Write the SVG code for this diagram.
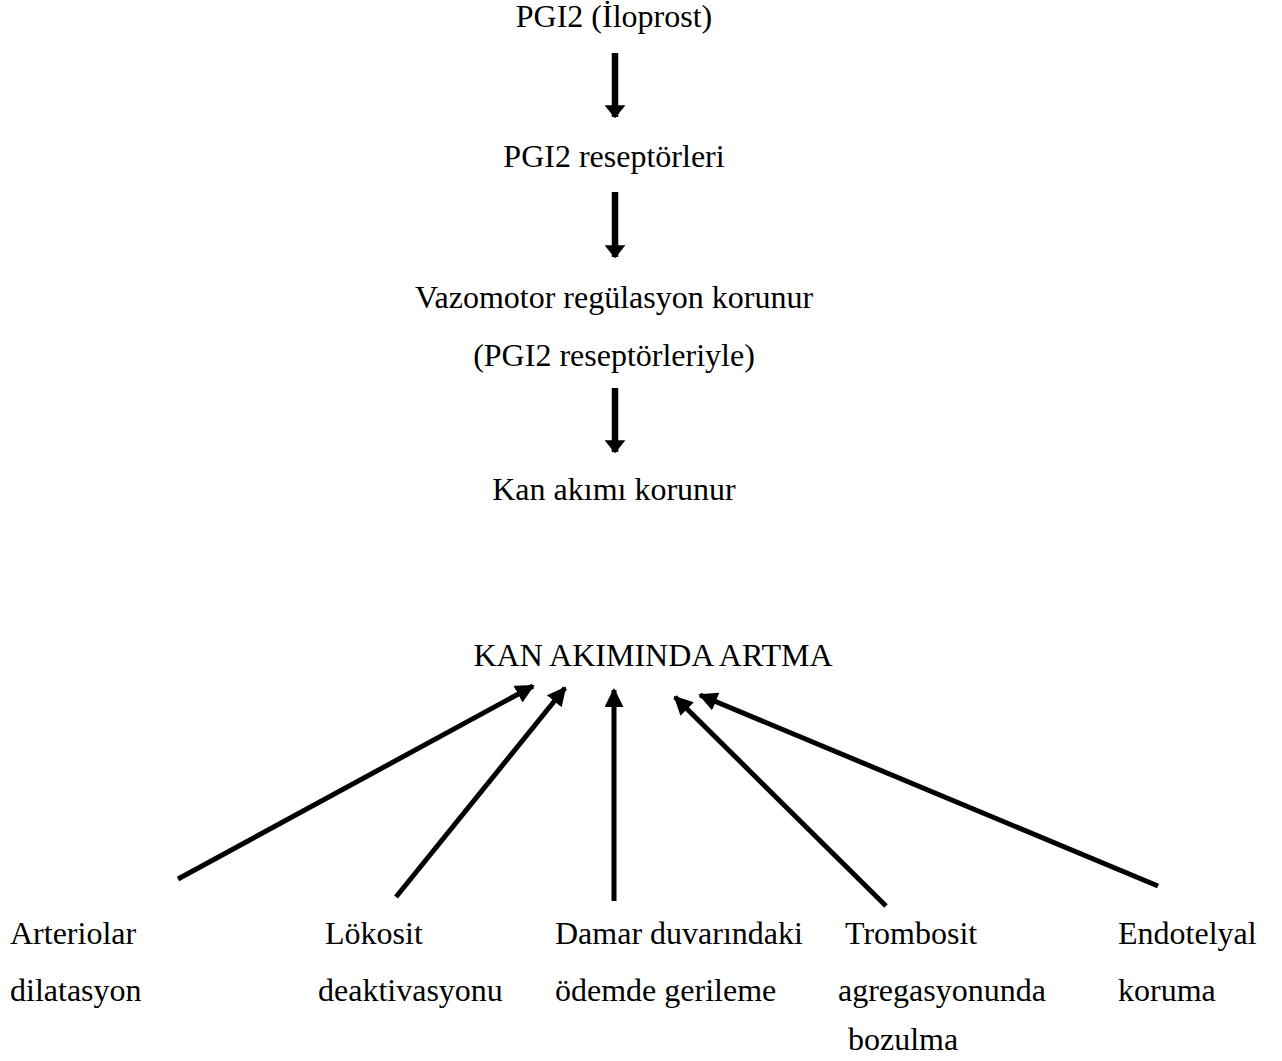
<svg xmlns="http://www.w3.org/2000/svg" width="1282" height="1061" viewBox="0 0 1282 1061">
<style>
text{font-family:"Liberation Serif","Times New Roman",serif;font-size:32px;fill:#000}
.c{text-anchor:middle}
.a1{stroke:#000;stroke-width:6.5;fill:none}
.a2{stroke:#000;stroke-width:5;fill:none}
</style>
<defs>
<marker id="h" viewBox="0 0 10 10" refX="9" refY="5" markerWidth="2" markerHeight="3.2" markerUnits="strokeWidth" orient="auto" preserveAspectRatio="none">
<path d="M0,0 L10,5 L0,10 z" fill="#000"/>
</marker>
<marker id="h2" viewBox="0 0 10 10" refX="9" refY="5" markerWidth="3.8" markerHeight="3.8" markerUnits="strokeWidth" orient="auto" preserveAspectRatio="none">
<path d="M0,0 L10,5 L0,10 z" fill="#000"/>
</marker>
</defs>
<rect width="1282" height="1061" fill="#fff"/>
<g id="n1"><text class="c" x="614" y="27">PGI2 (İloprost)</text></g>
<g id="n2"><text class="c" x="614" y="167">PGI2 reseptörleri</text></g>
<g id="n3"><text class="c" x="614" y="308">Vazomotor regülasyon korunur</text><text class="c" x="614" y="366">(PGI2 reseptörleriyle)</text></g>
<g id="n4"><text class="c" x="614" y="500">Kan akımı korunur</text></g>
<g id="n5"><text class="c" x="653" y="666">KAN AKIMINDA ARTMA</text></g>
<g id="b1"><text x="10" y="944">Arteriolar</text><text x="10" y="1001">dilatasyon</text></g>
<g id="b2"><text x="325" y="944">Lökosit</text><text x="318" y="1001">deaktivasyonu</text></g>
<g id="b3"><text x="555" y="944">Damar duvarındaki</text><text x="555" y="1001">ödemde gerileme</text></g>
<g id="b4"><text x="845" y="944">Trombosit</text><text x="838" y="1001">agregasyonunda</text><text x="848" y="1050">bozulma</text></g>
<g id="b5"><text x="1118" y="944">Endotelyal</text><text x="1118" y="1001">koruma</text></g>
<g id="connectors">
<line class="a1" x1="615" y1="53" x2="615" y2="117" marker-end="url(#h)"/>
<line class="a1" x1="615" y1="192" x2="615" y2="257" marker-end="url(#h)"/>
<line class="a1" x1="615" y1="388" x2="615" y2="452" marker-end="url(#h)"/>
<line class="a2" x1="178" y1="879" x2="533" y2="686" marker-end="url(#h2)"/>
<line class="a2" x1="396" y1="897" x2="565" y2="688" marker-end="url(#h2)"/>
<line class="a2" x1="614" y1="901" x2="614" y2="690" marker-end="url(#h2)"/>
<line class="a2" x1="886" y1="906" x2="675" y2="697" marker-end="url(#h2)"/>
<line class="a2" x1="1158" y1="886" x2="700" y2="695" marker-end="url(#h2)"/>
</g>
</svg>
